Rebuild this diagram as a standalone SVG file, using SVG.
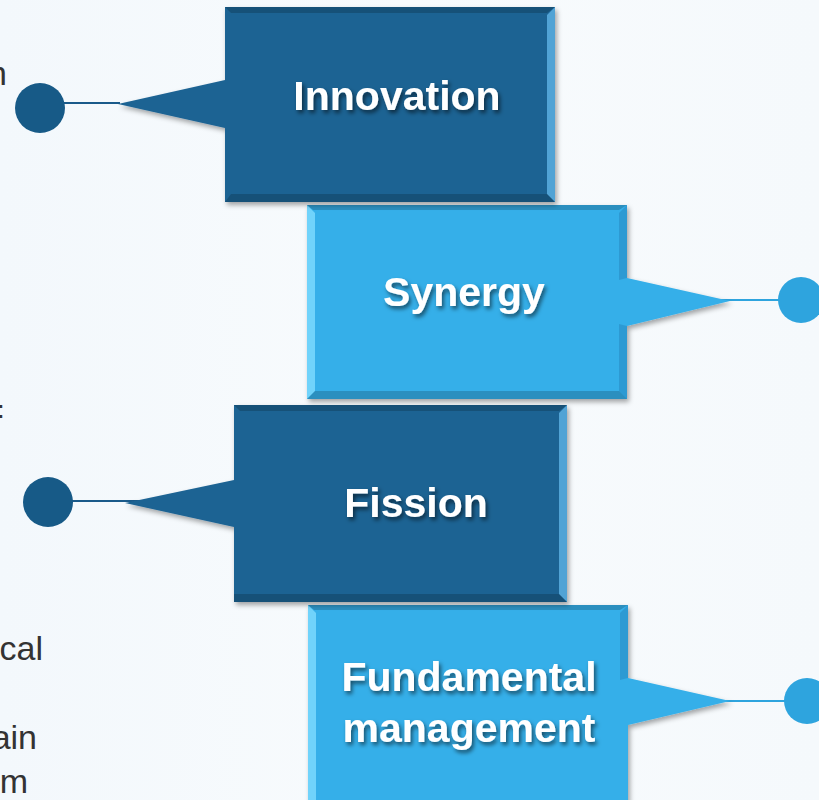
<svg xmlns="http://www.w3.org/2000/svg" width="819" height="800" viewBox="0 0 819 800">
<defs>
<linearGradient id="bg" x1="0" y1="0" x2="1" y2="0">
<stop offset="0" stop-color="#f3f8fc"/>
<stop offset="0.5" stop-color="#f8fbfd"/>
<stop offset="1" stop-color="#f5f9fc"/>
</linearGradient>
<filter id="boxShadow" x="-10%" y="-10%" width="125%" height="125%">
<feDropShadow dx="2" dy="3" stdDeviation="2.5" flood-color="#000" flood-opacity="0.35"/>
</filter>
<filter id="txtShadow" x="-10%" y="-20%" width="125%" height="150%">
<feDropShadow dx="2" dy="3" stdDeviation="2" flood-color="#000" flood-opacity="0.55"/>
</filter>
</defs>
<style>
.dark{fill:#1d6393}
.light{fill:#36afe9}
.label{font-family:"Liberation Sans",Arial,sans-serif;font-weight:bold;font-size:41px;fill:#fff;text-anchor:middle}
.side{font-family:"Liberation Sans",Arial,sans-serif;font-size:34px;fill:#333;text-anchor:end}
.lineDark{stroke:#1a5a8a;stroke-width:2;fill:none}
.lineLight{stroke:#2ea4de;stroke-width:2;fill:none}
.dotDark{fill:#175a87}
.dotLight{fill:#2ea4de}
.hiL{fill:#7fdcff;opacity:0.8}
.hiD{fill:#5fb3e6;opacity:0.8}
.shade{fill:#000;opacity:0.18}
</style>
<rect width="819" height="800" fill="url(#bg)"/>

<g id="side-text">
<text class="side" x="7" y="85">n</text>
<text class="side" x="4" y="425" style="font-size:40px">=</text>
<text class="side" x="43" y="660">cal</text>
<text class="side" x="37" y="749">ain</text>
<text class="side" x="28" y="793">m</text>
</g>

<g id="connectors">
<line class="lineDark" x1="60" y1="103" x2="120" y2="103"/>
<line class="lineLight" x1="660" y1="300" x2="782" y2="300"/>
<line class="lineDark" x1="70" y1="501" x2="200" y2="501"/>
<line class="lineLight" x1="700" y1="701" x2="787" y2="701"/>
</g>

<g id="node-fundamental">
<path class="light" filter="url(#boxShadow)" d="M308,605 H628 V678 L730,701 L628,725 V812 H308 Z"/>
<polygon class="hiL" points="308,605 316,613 316,812 308,812"/>
<polygon points="620,613 628,605 628,678 620,680" fill="#2b92c9" opacity="0.7"/>
<polygon class="shade" points="308,605 628,605 620,610 314,610"/>
<text class="label" filter="url(#txtShadow)" x="469" y="691">Fundamental</text>
<text class="label" filter="url(#txtShadow)" x="469" y="742">management</text>
<circle class="dotLight" cx="807" cy="701" r="23"/>
</g>

<g id="node-fission">
<path class="dark" filter="url(#boxShadow)" d="M234,405 H567 V602 H234 V527 L125,503 L234,480 Z"/>
<polygon class="hiD" points="559,413 567,405 567,602 559,594"/>
<polygon class="shade" points="234,405 567,405 559,411 240,411"/>
<polygon class="shade" points="234,594 559,594 567,602 234,602"/>
<text class="label" filter="url(#txtShadow)" x="416" y="517">Fission</text>
<circle class="dotDark" cx="48" cy="502" r="25"/>
</g>

<g id="node-synergy">
<path class="light" filter="url(#boxShadow)" d="M307,205 H627 V278 L730,301 L627,326 V399 H307 Z"/>
<polygon class="hiL" points="307,205 315,213 315,391 307,399"/>
<polygon points="619,213 627,205 627,278 619,280" fill="#2b92c9" opacity="0.7"/>
<polygon points="619,324 627,326 627,399 619,391" fill="#2b92c9" opacity="0.7"/>
<polygon class="shade" points="307,205 627,205 619,210 313,210"/>
<polygon class="shade" points="315,391 619,391 627,399 307,399"/>
<text class="label" filter="url(#txtShadow)" x="464" y="306">Synergy</text>
<circle class="dotLight" cx="801" cy="300" r="23"/>
</g>

<g id="node-innovation">
<path class="dark" filter="url(#boxShadow)" d="M225,7 H555 V202 H225 V128 L118,104 L225,80 Z"/>
<polygon class="hiD" points="547,15 555,7 555,202 547,194"/>
<polygon class="shade" points="225,7 555,7 547,13 231,13"/>
<polygon class="shade" points="231,194 547,194 555,202 225,202"/>
<text class="label" filter="url(#txtShadow)" x="397" y="110">Innovation</text>
<circle class="dotDark" cx="40" cy="108" r="25"/>
</g>
</svg>
